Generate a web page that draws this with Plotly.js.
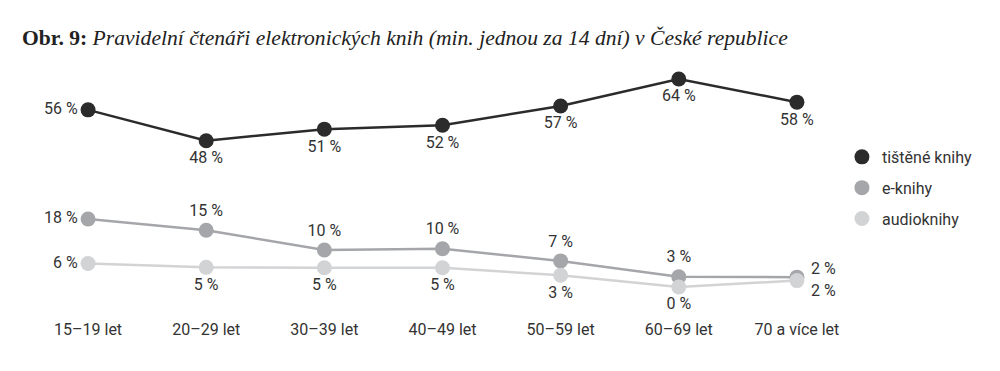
<!DOCTYPE html>
<html>
<head>
<meta charset="utf-8">
<script src="https://cdn.plot.ly/plotly-3.0.1.min.js"></script>
<style>html,body{margin:0;padding:0;background:#fff;}#chart{width:1000px;height:371px;}</style>
</head>
<body>
<div id="chart"></div>
<script>
const categories = ['15–19 let','20–29 let','30–39 let','40–49 let','50–59 let','60–69 let','70 a více let'];
const tistene = [56, 48, 51, 52, 57, 64, 58];
const tisteneLabels = ['56 %','48 %','51 %','52 %','57 %','64 %','58 %'];
const eknihy = [18, 15, 9.8, 10.1, 6.9, 2.7, 2.6];
const eknihyLabels = ['18 %','15 %','10 %','10 %','7 %','3 %','2 %'];
const audioknihy = [6.2, 5.2, 5.1, 5.1, 3.1, 0, 1.7];
const audioLabels = ['6 %','5 %','5 %','5 %','3 %','0 %','2 %'];
const seriesNames = ['tištěné knihy','e-knihy','audioknihy'];
const colors = ['#2b2b2b','#a4a6a9','#d2d3d5'];

const labelFont = {family: 'Roboto, sans-serif', size: 16, color: '#333'};
const last = categories.length - 1;
const withoutLast = arr => arr.map((t, i) => (i === last ? '' : t));

const traces = [
  {
    x: categories, y: tistene, text: tisteneLabels, yaxis: 'y2',
    mode: 'lines+markers+text', showlegend: false, cliponaxis: false,
    line: {color: colors[0], width: 2.5}, marker: {color: colors[0], size: 15},
    textposition: ['middle left','bottom center','bottom center','bottom center','bottom center','bottom center','bottom center'],
    textfont: labelFont, hoverinfo: 'skip'
  },
  {
    x: categories, y: eknihy, text: withoutLast(eknihyLabels),
    mode: 'lines+markers+text', showlegend: false, cliponaxis: false,
    line: {color: colors[1], width: 2.5}, marker: {color: colors[1], size: 15},
    textposition: ['middle left','top center','top center','top center','top center','top center','top center'],
    textfont: labelFont, hoverinfo: 'skip'
  },
  {
    x: categories, y: audioknihy, text: withoutLast(audioLabels),
    mode: 'lines+markers+text', showlegend: false, cliponaxis: false,
    line: {color: colors[2], width: 2.5}, marker: {color: colors[2], size: 15},
    textposition: ['middle left','bottom center','bottom center','bottom center','bottom center','bottom center','bottom center'],
    textfont: labelFont, hoverinfo: 'skip'
  }
];
// legend-only entries (markers only)
seriesNames.forEach((n, i) => {
  traces.push({
    x: [null], y: [null], name: n, mode: 'markers', legendgroup: 'g' + i,
    marker: {color: colors[i], size: 15}, hoverinfo: 'skip'
  });
});

const annotations = [
  {x: categories[last], y: eknihy[last], xref: 'x', yref: 'y', text: eknihyLabels[last],
   showarrow: false, xanchor: 'left', yanchor: 'middle', xshift: 12, yshift: 9, font: labelFont},
  {x: categories[last], y: audioknihy[last], xref: 'x', yref: 'y', text: audioLabels[last],
   showarrow: false, xanchor: 'left', yanchor: 'middle', xshift: 12, yshift: -10, font: labelFont}
];

const layout = {
  width: 1000, height: 371,
  margin: {l: 29, r: 144, t: 60, b: 53},
  paper_bgcolor: '#fff', plot_bgcolor: '#fff',
  title: {
    text: '<b>Obr. 9:</b> <i>Pravidelní čtenáři elektronických knih (min. jednou za 14 dní) v České republice</i>',
    font: {family: '"Liberation Serif", serif', size: 21.6, color: '#222'},
    x: 0.022, xanchor: 'left', xref: 'container',
    y: 0.90, yanchor: 'middle', yref: 'container'
  },
  xaxis: {
    type: 'category', range: [-0.5, 6.5], showgrid: false, zeroline: false,
    showline: false, ticks: '', tickfont: labelFont, fixedrange: true
  },
  yaxis: {range: [-8.2, 60.05], visible: false, fixedrange: true},
  yaxis2: {range: [2.02, 68.93], overlaying: 'y', visible: false, fixedrange: true},
  annotations: annotations,
  showlegend: true,
  legend: {
    x: 0.983, xanchor: 'left', y: 0.504, yanchor: 'middle',
    font: {family: 'Roboto, sans-serif', size: 16, color: '#333'},
    tracegroupgap: 7, bgcolor: 'rgba(0,0,0,0)'
  }
};

Plotly.newPlot('chart', traces, layout, {displayModeBar: false, staticPlot: true});
</script>
</body>
</html>
